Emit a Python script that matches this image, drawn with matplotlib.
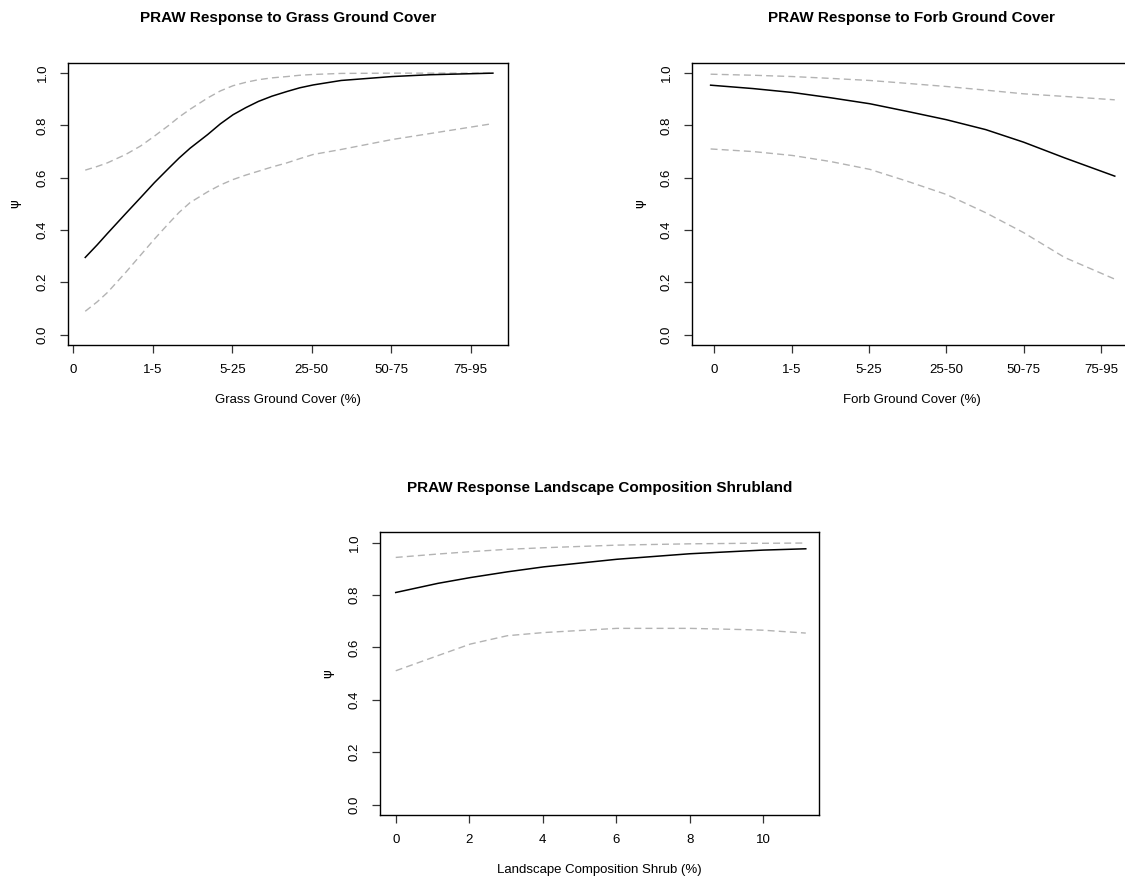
import matplotlib
matplotlib.use('Agg')
import matplotlib.pyplot as plt
import numpy as np

plt.rcParams['font.family'] = ['Liberation Sans', 'DejaVu Sans']

# grass ground cover (category index on x)
grass_cats = ['0', '1-5', '5-25', '25-50', '50-75', '75-95']
grass_x = [0.15, 0.3, 0.43, 0.66, 0.85, 1.02, 1.2, 1.33, 1.47, 1.69, 1.85, 2.01, 2.17,
           2.33, 2.5, 2.69, 2.85, 3.02, 3.37, 4.01, 4.49, 5.28]
grass_psi = [0.295, 0.343, 0.387, 0.463, 0.525, 0.581, 0.636, 0.675, 0.713, 0.765, 0.806, 0.841, 0.868,
             0.892, 0.912, 0.93, 0.944, 0.955, 0.972, 0.987, 0.994, 1.0]
grass_up = [0.629, 0.643, 0.657, 0.689, 0.722, 0.759, 0.80, 0.832, 0.862, 0.905, 0.932, 0.952, 0.965,
            0.975, 0.982, 0.987, 0.992, 0.995, 0.999, 1.0, 1.0, 1.0]
grass_lo = [0.089, 0.125, 0.161, 0.238, 0.305, 0.365, 0.425, 0.467, 0.505, 0.546, 0.572, 0.593, 0.61,
            0.625, 0.641, 0.657, 0.673, 0.689, 0.708, 0.746, 0.769, 0.807]

# forb ground cover
forb_cats = ['0', '1-5', '5-25', '25-50', '50-75', '75-95']
forb_x = [-0.05, 0.5, 1.01, 1.5, 2.01, 2.49, 3.0, 3.51, 4.0, 4.53, 5.18]
forb_psi = [0.954, 0.941, 0.926, 0.906, 0.883, 0.854, 0.822, 0.784, 0.736, 0.676, 0.606]
forb_up = [0.996, 0.992, 0.987, 0.98, 0.972, 0.961, 0.949, 0.935, 0.921, 0.911, 0.898]
forb_lo = [0.71, 0.70, 0.685, 0.662, 0.632, 0.587, 0.536, 0.466, 0.39, 0.295, 0.212]

# landscape composition shrub (%)
shrub_x = [0.0, 1.15, 2.03, 3.04, 4.03, 6.02, 8.0, 9.56, 10.0, 11.16]
shrub_psi = [0.81, 0.845, 0.867, 0.889, 0.908, 0.937, 0.958, 0.969, 0.972, 0.977]
shrub_up = [0.944, 0.957, 0.966, 0.975, 0.981, 0.991, 0.996, 0.998, 0.998, 0.999]
shrub_lo = [0.511, 0.569, 0.613, 0.645, 0.657, 0.673, 0.673, 0.668, 0.666, 0.655]

W, H = 1125, 880
fig = plt.figure(figsize=(W / 100, H / 100), dpi=100)


def panel(rect, x, psi, up, lo, title, xlabel, xlim, xticks, xticklabels=None):
    l, t, r, b = rect  # pixel box
    ax = fig.add_axes([l / W, 1 - b / H, (r - l) / W, (b - t) / H])
    ax.plot(x, up, color='#b3b3b3', lw=1, dashes=(5, 3))
    ax.plot(x, lo, color='#b3b3b3', lw=1, dashes=(5, 3))
    ax.plot(x, psi, color='black', lw=1.1)
    ax.set_xlim(xlim)
    ax.set_ylim(-0.04, 1.04)
    ax.set_yticks([0, 0.2, 0.4, 0.6, 0.8, 1.0])
    ax.set_yticklabels(['0.0', '0.2', '0.4', '0.6', '0.8', '1.0'], rotation=90, va='center')
    ax.set_xticks(xticks)
    if xticklabels is not None:
        ax.set_xticklabels(xticklabels)
    ax.tick_params(axis='both', length=6, width=0.9, labelsize=9.5, color='#333333')
    ax.tick_params(axis='x', pad=8)
    ax.tick_params(axis='y', pad=8)
    for s in ax.spines.values():
        s.set_linewidth(1.0)
    ax.set_title(title, fontsize=11, fontweight='bold', pad=29)
    ax.set_xlabel(xlabel, fontsize=9.5, va='center')
    ax.xaxis.set_label_coords(0.5, -55 / (b - t))
    ax.set_ylabel('ψ', fontsize=9.5, va='center', family=['DejaVu Sans'])
    ax.yaxis.set_label_coords(-53 / (r - l), 0.5)
    return ax


panel((68, 62.7, 508, 345), grass_x, grass_psi, grass_up, grass_lo,
      'PRAW Response to Grass Ground Cover', 'Grass Ground Cover (%)',
      (-0.067, 5.47), range(len(grass_cats)), grass_cats)

panel((692.3, 62.7, 1131, 345), forb_x, forb_psi, forb_up, forb_lo,
      'PRAW Response to Forb Ground Cover', 'Forb Ground Cover (%)',
      (-0.287, 5.39), range(len(forb_cats)), forb_cats)

panel((380.3, 532.3, 819, 815), shrub_x, shrub_psi, shrub_up, shrub_lo,
      'PRAW Response Landscape Composition Shrubland', 'Landscape Composition Shrub (%)',
      (-0.42, 11.52), [0, 2, 4, 6, 8, 10])

fig.savefig('out.png', dpi=100)
